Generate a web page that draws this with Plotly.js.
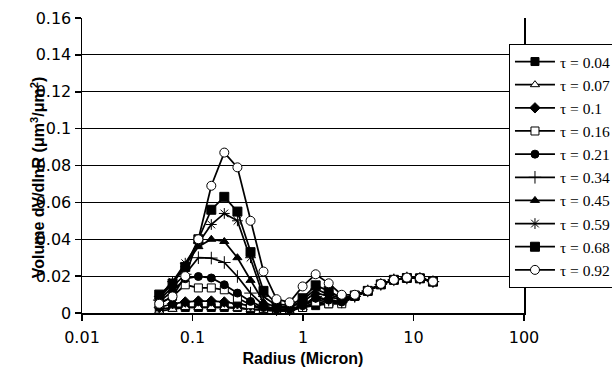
<!DOCTYPE html>
<html>
<head>
<meta charset="utf-8">
<script src="https://cdn.plot.ly/plotly-3.0.1.min.js"></script>
<style>html,body{margin:0;padding:0;background:#fff;}#chart{width:612px;height:373px;}</style>
</head>
<body>
<div id="chart"></div>
<script>
// Radius bins (micron)
var radius = [0.050,0.066,0.086,0.113,0.148,0.194,0.255,0.335,0.439,0.576,0.756,0.992,1.302,1.708,2.241,2.940,3.857,5.061,6.641,8.713,11.432,15.000];

var tau004 = [0.002,0.003,0.003,0.003,0.003,0.003,0.003,0.002,0.002,0.002,0.002,0.003,0.004,0.005,0.006,0.009,0.012,0.0155,0.018,0.019,0.0188,0.017];
var tau007 = [0.001,0.002,0.003,0.003,0.003,0.003,0.0025,0.002,0.0015,0.001,0.001,0.003,0.005,0.005,0.006,0.009,0.012,0.0155,0.018,0.019,0.0188,0.017];
var tau010 = [0.003,0.005,0.006,0.0065,0.0065,0.006,0.005,0.004,0.002,0.0015,0.0015,0.004,0.007,0.006,0.006,0.009,0.012,0.0155,0.018,0.019,0.0188,0.017];
var tau016 = [0.005,0.009,0.0153,0.0136,0.0136,0.0126,0.0081,0.0045,0.0025,0.002,0.002,0.003,0.006,0.005,0.005,0.009,0.012,0.0155,0.018,0.019,0.0188,0.017];
var tau021 = [0.006,0.012,0.0186,0.0198,0.019,0.0153,0.0108,0.0063,0.003,0.002,0.002,0.004,0.008,0.007,0.006,0.009,0.012,0.0155,0.018,0.019,0.0188,0.017];
var tau034 = [0.007,0.014,0.021,0.030,0.0298,0.0274,0.0198,0.0108,0.004,0.002,0.002,0.004,0.009,0.007,0.006,0.009,0.012,0.0155,0.018,0.019,0.0188,0.017];
var tau045 = [0.008,0.016,0.026,0.036,0.040,0.0388,0.030,0.0177,0.006,0.003,0.003,0.006,0.011,0.009,0.007,0.0095,0.012,0.0155,0.018,0.019,0.0188,0.017];
var tau059 = [0.009,0.017,0.027,0.038,0.048,0.054,0.050,0.030,0.009,0.004,0.003,0.007,0.013,0.010,0.008,0.0095,0.012,0.0155,0.018,0.019,0.0188,0.017];
var tau068 = [0.010,0.016,0.025,0.040,0.056,0.063,0.055,0.033,0.012,0.005,0.004,0.008,0.015,0.012,0.008,0.0095,0.012,0.0155,0.018,0.019,0.0188,0.017];
var tau092 = [0.005,0.009,0.020,0.040,0.069,0.087,0.079,0.050,0.0225,0.0075,0.0058,0.0144,0.021,0.0161,0.0099,0.0099,0.0121,0.0158,0.018,0.0192,0.0189,0.0171];

var seriesNames = ["τ = 0.04","τ = 0.07","τ = 0.1","τ = 0.16","τ = 0.21","τ = 0.34","τ = 0.45","τ = 0.59","τ = 0.68","τ = 0.92"];
var seriesValues = [tau004,tau007,tau010,tau016,tau021,tau034,tau045,tau059,tau068,tau092];
var markerSymbols = ["square","triangle-up","diamond","square","circle","cross-thin-open","triangle-up","asterisk-open","square","circle"];
var markerFills = ["black","white","black","white","black","black","black","black","black","white"];
var markerSizes = [8,8,8,8,8,9,8,9,9,9];

var xTickVals = [0.01,0.1,1,10,100];
var xTickText = ["0.01","0.1","1","10","100"];
var yTickVals = [0,0.02,0.04,0.06,0.08,0.1,0.12,0.14,0.16];
var yTickText = ["0","0.02","0.04","0.06","0.08","0.1","0.12","0.14","0.16"];

var traces = seriesNames.map(function(name, i){
  return {
    x: radius, y: seriesValues[i], name: name, type: 'scatter', mode: 'lines+markers',
    line: {color: 'black', width: 1.75},
    marker: {symbol: markerSymbols[i], size: markerSizes[i], color: markerFills[i],
             line: {color: 'black', width: 1}},
    cliponaxis: false
  };
});

var layout = {
  width: 612, height: 373,
  margin: {l: 82, r: 88, t: 18, b: 60, autoexpand: false},
  paper_bgcolor: 'white', plot_bgcolor: 'white',
  showlegend: true,
  font: {family: 'DejaVu Sans, Verdana, sans-serif', color: 'black'},
  xaxis: {
    type: 'log', range: [-2, 2],
    tickvals: xTickVals, ticktext: xTickText,
    showgrid: false, zeroline: false,
    showline: true, linecolor: 'black', linewidth: 1.5,
    ticks: 'outside', ticklen: 6, tickcolor: 'black', tickwidth: 1.5,
    ticklabelstandoff: 3,
    tickfont: {family: 'DejaVu Sans, Verdana, sans-serif', size: 16, color: 'black'},
    title: {text: 'Radius (Micron)', font: {family: 'Liberation Sans, Arial, sans-serif', size: 16, color: 'black', weight: 'bold'}, standoff: 7}
  },
  yaxis: {
    range: [0, 0.16],
    tickvals: yTickVals, ticktext: yTickText,
    showgrid: true, gridcolor: 'black', gridwidth: 1,
    zeroline: false,
    showline: true, linecolor: 'black', linewidth: 1.5, mirror: true,
    ticks: 'outside', ticklen: 6, tickcolor: 'black', tickwidth: 1.5,
    tickfont: {family: 'DejaVu Sans, Verdana, sans-serif', size: 16, color: 'black'}
  },
  legend: {
    x: 0.966, xanchor: 'left', y: 0.912, yanchor: 'top',
    bgcolor: 'white', bordercolor: 'black', borderwidth: 1,
    font: {family: 'Liberation Serif, Times New Roman, serif', size: 15.5, color: 'black'},
    itemwidth: 40, tracegroupgap: 0
  },
  annotations: [{
    xref: 'paper', yref: 'paper', x: -0.0995, y: 0.46, xanchor: 'center', yanchor: 'middle',
    textangle: -90, showarrow: false,
    text: 'Volume dV/dlnR (μm<sup>3</sup>/μm<sup>2</sup>)',
    font: {family: 'Liberation Sans, Arial, sans-serif', size: 16, color: 'black', weight: 'bold'}
  }]
};

Plotly.newPlot('chart', traces, layout, {displayModeBar: false, staticPlot: true});
</script>
</body>
</html>
